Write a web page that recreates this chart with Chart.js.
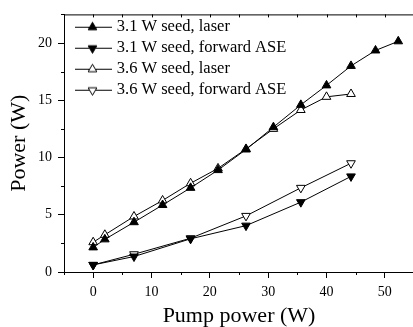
<!DOCTYPE html>
<html>
<head>
<meta charset="utf-8">
<script src="https://cdn.jsdelivr.net/npm/chart.js@4.4.0/dist/chart.umd.min.js"></script>
<style>
    html, body { margin: 0; padding: 0; background: #fff; overflow: hidden; }
    #wrap { width: 420px; height: 327px; }
</style>
</head>
<body>
<div id="wrap"><canvas id="myChart" width="420" height="327"></canvas></div>
<script>
// values
const pumpLaser31 = [0, 2, 7, 11.9, 16.7, 21.4, 26.2, 30.9, 35.6, 40, 44.2, 48.4, 52.3];
const powerLaser31 = [2.15, 2.85, 4.35, 5.85, 7.35, 8.9, 10.7, 12.65, 14.6, 16.3, 18.0, 19.35, 20.15];
const pumpAse31 = [0, 7, 16.7, 26.2, 35.6, 44.2];
const powerAse31 = [0.62, 1.35, 2.9, 4.05, 6.1, 8.35];
const pumpLaser36 = [0, 2, 7, 11.9, 16.7, 21.4, 26.2, 30.9, 35.6, 40, 44.2];
const powerLaser36 = [2.6, 3.25, 4.85, 6.25, 7.75, 9.05, 10.75, 12.5, 14.15, 15.3, 15.55];
const pumpAse36 = [0, 7, 16.7, 26.2, 35.6, 44.2];
const powerAse36 = [0.62, 1.55, 2.95, 4.9, 7.35, 9.5];

const seriesLabels = ["3.1 W seed, laser", "3.1 W seed, forward ASE", "3.6 W seed, laser", "3.6 W seed, forward ASE"];
const xTicks = [0, 10, 20, 30, 40, 50];
const yTicks = [0, 5, 10, 15, 20];

const serif = "'Liberation Serif', 'Times New Roman', serif";

const toXY = (xs, ys) => xs.map((x, i) => ({ x: x, y: ys[i] }));

const makeSet = (label, xs, ys, filled, down) => ({
    label: label,
    data: toXY(xs, ys),
    borderColor: "#000",
    borderWidth: 1,
    tension: 0,
    fill: false,
    pointStyle: "triangle",
    pointRotation: down ? 180 : 0,
    pointRadius: 5,
    pointHoverRadius: 5,
    pointBackgroundColor: filled ? "#000" : "#fff",
    pointBorderColor: "#000",
    pointBorderWidth: 1,
    filled: filled,
    down: down,
});

// line + marker icon for the legend
const makeIcon = (filled, down) => {
    const c = document.createElement("canvas");
    c.width = 49;
    c.height = 14;
    const g = c.getContext("2d");
    g.strokeStyle = "#000";
    g.lineWidth = 1;
    g.beginPath();
    g.moveTo(11, 7.5);
    g.lineTo(48, 7.5);
    g.stroke();
    const cx = 28.5, cy = 7.5, r = 5;
    const s = down ? -1 : 1;
    g.beginPath();
    g.moveTo(cx, cy - s * r);
    g.lineTo(cx + r * 0.866, cy + s * r * 0.5);
    g.lineTo(cx - r * 0.866, cy + s * r * 0.5);
    g.closePath();
    g.fillStyle = filled ? "#000" : "#fff";
    g.fill();
    g.stroke();
    return c;
};

const frameTicks = {
    id: "frameTicks",
    afterDraw: chart => {
        const { ctx, chartArea: a, scales } = chart;
        const x = scales.x, y = scales.y;
        ctx.save();
        ctx.strokeStyle = "#000";
        ctx.lineWidth = 1;
        ctx.beginPath();
        ctx.moveTo(a.left, a.top + 0.5);
        ctx.lineTo(a.right, a.top + 0.5);
        ctx.moveTo(a.right - 0.5, a.top);
        ctx.lineTo(a.right - 0.5, a.bottom);
        x.ticks.forEach(t => {
            const px = Math.round(x.getPixelForValue(t.value)) + 0.5;
            const major = xTicks.includes(t.value);
            if (!major) {
                ctx.moveTo(px, a.bottom);
                ctx.lineTo(px, a.bottom + 3);
            }
            ctx.moveTo(px, a.top);
            ctx.lineTo(px, a.top + 3);
        });
        y.ticks.forEach(t => {
            const py = Math.round(y.getPixelForValue(t.value)) + 0.5;
            if (!yTicks.includes(t.value)) {
                ctx.moveTo(a.left, py);
                ctx.lineTo(a.left - 3, py);
            }
        });
        ctx.stroke();
        ctx.restore();
    },
};

const printChart = () => {
    const ctx = document.getElementById("myChart").getContext("2d");
    const chart = new Chart(ctx, {
        type: "line",
        data: {
            datasets: [
                makeSet(seriesLabels[0], pumpLaser31, powerLaser31, true, false),
                makeSet(seriesLabels[1], pumpAse31, powerAse31, true, true),
                makeSet(seriesLabels[2], pumpLaser36, powerLaser36, false, false),
                makeSet(seriesLabels[3], pumpAse36, powerAse36, false, true),
            ],
        },
        options: {
            responsive: false,
            animation: false,
            devicePixelRatio: 1,
            layout: { padding: { top: 11, right: 4, left: 0, bottom: 0 } },
            plugins: {
                tooltip: { enabled: false },
                legend: {
                    position: "chartArea",
                    align: "start",
                    // empty title only pushes the rows down inside the plot
                    title: { display: true, text: "", padding: { top: 11, bottom: 0 }, font: { size: 3, lineHeight: 1 } },
                    labels: {
                        usePointStyle: true,
                        pointStyleWidth: 40,
                        boxHeight: 14,
                        padding: 4.5,
                        color: "#000",
                        font: { family: serif, size: 16.5 },
                        generateLabels: c =>
                            c.data.datasets.map((d, i) => ({
                                text: d.label,
                                pointStyle: makeIcon(d.filled, d.down),
                                rotation: 0,
                                fontColor: "#000",
                                lineWidth: 0,
                                hidden: false,
                                datasetIndex: i,
                            })),
                    },
                },
            },
            scales: {
                x: {
                    type: "linear",
                    min: -5,
                    max: 55,
                    afterFit: s => { s.height = 55; },
                    border: { display: true, color: "#000", width: 1 },
                    grid: {
                        drawOnChartArea: false,
                        tickLength: 6,
                        tickColor: c => (c.tick && xTicks.includes(c.tick.value) ? "#000" : "rgba(0,0,0,0)"),
                    },
                    ticks: {
                        stepSize: 5,
                        autoSkip: false,
                        maxRotation: 0,
                        padding: 6,
                        color: "#000",
                        font: { family: serif, size: 14 },
                        callback: v => (xTicks.includes(v) ? v : ""),
                    },
                    title: {
                        display: true,
                        text: "Pump power (W)",
                        color: "#000",
                        padding: { top: 0, bottom: 0 },
                        font: { family: serif, size: 22, lineHeight: 1 },
                    },
                },
                y: {
                    min: 0,
                    max: 22.5,
                    afterFit: s => { s.width = 64; },
                    border: { display: true, color: "#000", width: 1 },
                    grid: {
                        drawOnChartArea: false,
                        tickLength: 6,
                        tickColor: c => (c.tick && yTicks.includes(c.tick.value) ? "#000" : "rgba(0,0,0,0)"),
                    },
                    ticks: {
                        stepSize: 2.5,
                        autoSkip: false,
                        padding: 6,
                        color: "#000",
                        font: { family: serif, size: 14 },
                        callback: v => (yTicks.includes(v) ? v : ""),
                    },
                    title: {
                        display: true,
                        text: "Power (W)",
                        color: "#000",
                        padding: { top: 8, bottom: 0 },
                        font: { family: serif, size: 22, lineHeight: 1 },
                    },
                },
            },
        },
        plugins: [frameTicks],
    });
};

printChart();
</script>
</body>
</html>
